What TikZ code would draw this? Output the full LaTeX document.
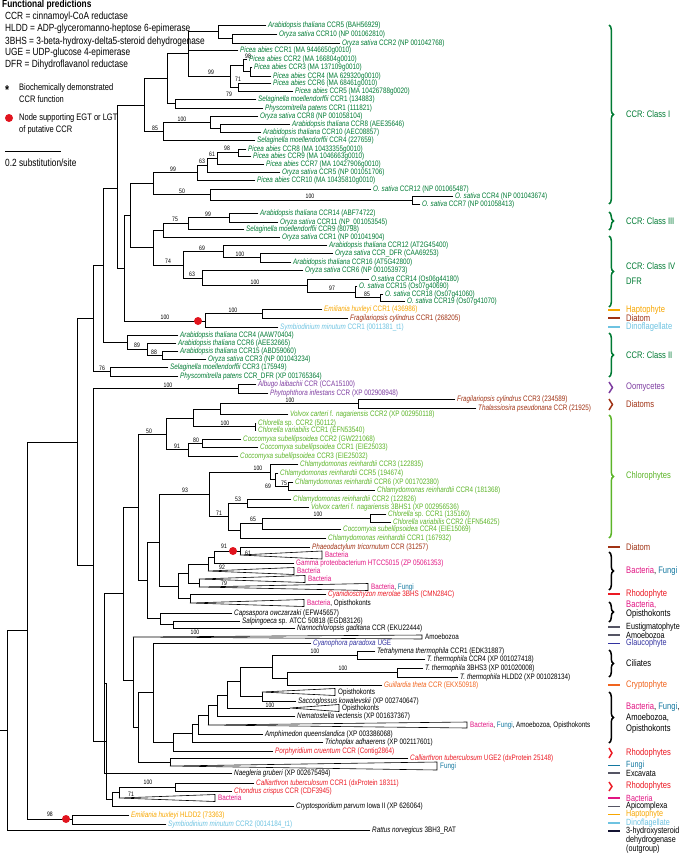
\documentclass[tikz,border=0pt]{standalone}
\usepackage{fontspec}
\setmainfont{Liberation Sans}[FakeStretch=0.8]
\usetikzlibrary{decorations.pathreplacing}
\definecolor{gC}{RGB}{0,122,51}
\definecolor{lgC}{RGB}{92,180,40}
\definecolor{orC}{RGB}{247,166,0}
\definecolor{brC}{RGB}{160,50,20}
\definecolor{lbC}{RGB}{110,195,225}
\definecolor{puC}{RGB}{125,60,160}
\definecolor{pkC}{RGB}{225,20,130}
\definecolor{fuC}{RGB}{20,120,160}
\definecolor{rdC}{RGB}{235,25,35}
\definecolor{glC}{RGB}{50,50,160}
\definecolor{crC}{RGB}{240,100,30}
\definecolor{grC}{RGB}{85,85,100}
\definecolor{dkC}{RGB}{20,20,50}
\definecolor{dotC}{RGB}{225,20,30}
\newcounter{lc}\newcounter{sc}\newcounter{gc}\newcounter{dc}
\tikzset{
 br/.style={line width=0.85pt, line cap=rect},
 trishape/.style={line width=0.6pt, fill=white, line join=miter},
 lab/.style={anchor=west, inner sep=0pt, font=\fontsize{7.9}{8}\selectfont},
 sup/.style={inner sep=0pt, font=\fontsize{6.4}{7}\selectfont},
 leg/.style={anchor=west, inner sep=0pt, font=\fontsize{10.4}{11}\selectfont},
 legs/.style={anchor=west, inner sep=0pt, font=\fontsize{9.4}{10}\selectfont},
 rl/.style={anchor=west, inner sep=0pt, font=\fontsize{9.5}{10}\selectfont},
 rls/.style={anchor=west, inner sep=0pt, font=\fontsize{9}{10}\selectfont},
 gl/.style={line width=1.6pt},
 gb/.style={decorate, line width=1.5pt},
 rdot/.style={circle, fill=dotC, inner sep=0pt, minimum size=8pt},
}
\newcommand{\vln}[3]{\draw[br] (#1,#2) -- (#1,#3);}
\newcommand{\hln}[3]{\draw[br] (#1,#3) -- (#2,#3);}
\newcommand{\leaf}[5]{\stepcounter{lc}\draw[br] (#1,#3) -- ({#2-2},#3);
 \node[lab,text=#4] (L\arabic{lc}) at (#2,#3) {#5};}
\newcommand{\ctri}[6]{\stepcounter{lc}\draw[trishape] (#1,#3) -- (#2,{#3-#4/2}) -- (#2,{#3+#4/2}) -- cycle;
 \node[lab,text=#5] (L\arabic{lc}) at ({#2+3},#3) {#6};}
\newcommand{\supv}[3]{\stepcounter{sc}\node[sup] (S\arabic{sc}) at (#1,#2) {#3};}
\newcommand{\reddot}[2]{\stepcounter{dc}\node[rdot] (D\arabic{dc}) at (#1,#2) {};}
\newcommand{\gline}[5][rl]{\stepcounter{gc}\draw[gl,draw=#4] (608,#2) -- (620,#2);
 \node[#1,text=#5] (G\arabic{gc}) at (626,#2) {#3};}
\newcommand{\gbrace}[6][4.5pt]{\stepcounter{gc}\draw[gb,decoration={brace,amplitude=#1},draw=#4] (609,#2) -- (609,#3);
 \node[rl,text=#5] (G\arabic{gc}) at (626,{(#2+#3)/2}) {#6};}
\newcommand{\sps}[1]{\textit{#1}}
\begin{document}
\begin{tikzpicture}[x=1pt,y=-1pt]
\useasboundingbox (0,0) rectangle (685,854);
% ---------------- legend
\node[leg,font=\bfseries\fontsize{10.4}{11}\selectfont] (lg0) at (2,5) {Functional predictions};
\node[leg] (lg1) at (5,17) {CCR = cinnamoyl-CoA reductase};
\node[leg] (lg2) at (5,29) {HLDD = ADP-glyceromanno-heptose 6-epimerase};
\node[leg] (lg3) at (5,42) {3BHS = 3-beta-hydroxy-delta5-steroid dehydrogenase};
\node[leg] (lg4) at (5,53) {UGE = UDP-glucose 4-epimerase};
\node[leg] (lg5) at (5,65) {DFR = Dihydroflavanol reductase};
\node[leg,font=\bfseries\fontsize{13}{13}\selectfont] (lg6) at (5,90) {*};
\node[legs] (lg7) at (19,88) {Biochemically demonstrated};
\node[legs] (lg8) at (19,99) {CCR function};
\node[rdot] (lg9) at (9,118) {};
\node[legs] (lg10) at (19,118) {Node supporting EGT or LGT};
\node[legs] (lg11) at (19,130) {of putative CCR};
\draw[line width=0.9pt] (5,151) coordinate (sb1) -- (61,151) coordinate (sb2);
\node[leg] (lg12) at (5,163) {0.2 substitution/site};
% ---------------- skeleton
\hln{0}{7}{730}
\vln{7}{630}{830}
\hln{7}{27}{630}
\vln{27}{442}{819}
\hln{27}{72}{819}
\vln{72}{815}{824}
\hln{27}{77}{442}
\vln{77}{318}{565}
\hln{77}{93}{318}
\vln{93}{265}{371.5}
\hln{93}{103}{265}
\vln{103}{188}{342}
\hln{103}{117}{188}
\vln{117}{105}{268}
\hln{117}{144}{105}
\vln{144}{78.5}{131}
\hln{144}{167}{78.5}
\vln{167}{53.9}{103.5}
\hln{167}{188}{53.9}
\vln{188}{31.75}{76}
\hln{188}{218}{31.75}
\vln{218}{25}{38.5}
\hln{218}{232}{38.5}
\vln{232}{34}{43}
\hln{188}{230}{76}
\vln{230}{65.25}{87}
\hln{230}{243}{65.25}
\vln{243}{59}{71.5}
\hln{243}{250}{71.5}
\vln{250}{67}{76}
\hln{230}{238}{87}
\vln{238}{83}{91}
\hln{167}{175}{103.5}
\vln{175}{99}{108}
\hln{144}{163}{131}
\vln{163}{122}{140}
\hln{163}{210}{122}
\vln{210}{116}{128}
\hln{210}{220}{128}
\vln{220}{124}{132}
\hln{117}{124}{268}
\vln{124}{215.5}{321}
\hln{124}{130}{215.5}
\vln{130}{183.5}{247.5}
\hln{130}{153}{183.5}
\vln{153}{172.5}{194.5}
\hln{153}{197}{172.5}
\vln{197}{165}{180}
\hln{197}{207}{165}
\vln{207}{158}{172}
\hln{207}{217}{158}
\vln{217}{152.5}{164}
\hln{217}{238}{152.5}
\vln{238}{149}{156}
\hln{153}{210}{194.5}
\vln{210}{189}{200}
\hln{210}{412}{200}
\vln{412}{196}{204}
\hln{130}{153}{247.5}
\vln{153}{230.25}{265.5}
\hln{153}{163}{230.25}
\vln{163}{223.25}{237}
\hln{163}{188}{223.25}
\vln{188}{217.5}{229}
\hln{188}{229}{217.5}
\vln{229}{213}{222}
\hln{153}{183}{265.5}
\vln{183}{251.25}{278}
\hln{183}{223}{251.25}
\vln{223}{245}{257.5}
\hln{223}{260}{257.5}
\vln{260}{253}{262}
\hln{183}{202}{278}
\vln{202}{270}{285.5}
\hln{202}{307}{285.5}
\vln{307}{279}{292}
\hln{307}{355}{292}
\vln{355}{286}{297.5}
\hln{355}{380}{297.5}
\vln{380}{294}{301}
\hln{124}{205}{321}
\vln{205}{313.5}{327}
\hln{205}{262}{313.5}
\vln{262}{309}{318}
\hln{103}{127}{342}
\vln{127}{335}{349}
\hln{127}{147}{349}
\vln{147}{343}{355}
\hln{147}{162}{355}
\vln{162}{351}{359}
\hln{93}{110}{371.5}
\vln{110}{367}{376}
\hln{77}{93}{565}
\vln{93}{388.5}{741}
\hln{93}{238}{388.5}
\vln{238}{384}{393}
% lower basal nodes
\hln{93}{106}{741}
\vln{106}{683}{799}
\hln{104}{106}{683}
\vln{104}{593.5}{773}
\hln{104}{123}{593.5}
\vln{123}{507}{680}
\hln{123}{138}{507}
\vln{138}{434}{580}
\hln{138}{166}{434}
\vln{166}{418}{449.5}
\hln{166}{193}{418}
\vln{193}{409}{426.5}
\hln{193}{220}{409}
\vln{220}{403.5}{414}
\hln{220}{358}{403.5}
\vln{358}{399}{408}
\hln{193}{255}{426.5}
\vln{255}{423}{430}
\hln{166}{188}{449.5}
\vln{188}{443}{456}
\hln{188}{202}{443}
\vln{202}{439}{447}
\hln{138}{147}{580}
\vln{147}{542}{618.75}
\hln{147}{159}{542}
\vln{159}{494.5}{586}
\hln{159}{209}{494.5}
\vln{209}{472}{516.5}
\hln{209}{270}{472}
\vln{270}{464}{479.5}
\hln{270}{275}{479.5}
\vln{275}{473}{486}
\hln{275}{288}{486}
\vln{288}{482}{490}
\hln{209}{228}{516.5}
\vln{228}{503}{530.75}
\hln{228}{247}{503}
\vln{247}{499}{507}
\hln{228}{240}{530.75}
\vln{240}{523.5}{538}
\hln{240}{262}{523.5}
\vln{262}{518}{529}
\hln{262}{370}{518}
\vln{370}{514}{522}
\hln{159}{178}{586}
\vln{178}{573.5}{598.5}
\hln{178}{188}{573.5}
\vln{188}{564}{583}
\hln{188}{208}{564}
\vln{208}{557}{571}
\hln{208}{214}{557}
\vln{214}{551}{563}
\hln{214}{240}{551}
\vln{240}{547}{555}
\hln{188}{199}{583}
\vln{199}{579}{587}
\hln{178}{190}{598.5}
\vln{190}{594}{603}
\hln{147}{160}{618.75}
\vln{160}{613}{624.5}
\hln{160}{173}{624.5}
\vln{173}{621}{628}
\hln{123}{133}{680}
\vln{133}{637}{727}
\hln{133}{138}{727}
\vln{138}{692.5}{762}
\hln{138}{153}{692.5}
\vln{153}{643}{742}
% ladder
\hln{153}{173}{742}
\vln{173}{733}{751}
\hln{173}{192}{733}
\vln{192}{724.5}{742}
\hln{192}{198}{724.5}
\vln{198}{715}{734}
\hln{198}{208}{715}
\vln{208}{705.5}{725}
\hln{208}{217}{705.5}
\vln{217}{695}{716}
\hln{217}{227}{695}
\vln{227}{681.75}{708}
\hln{227}{240}{681.75}
\vln{240}{667}{696.5}
\hln{240}{272}{667}
\vln{272}{655}{678.75}
\hln{272}{357}{655}
\vln{357}{651}{659}
\hln{272}{287}{678.75}
\vln{287}{672.5}{685}
\hln{287}{397}{672.5}
\vln{397}{668}{677}
\hln{240}{262}{696.5}
\vln{262}{692}{701}
\hln{227}{290}{708}
\hln{138}{170}{762}
\vln{170}{758}{766}
\hln{106}{112}{799}
\vln{112}{792.5}{806}
\hln{112}{119}{792.5}
\vln{119}{787}{798}
\hln{119}{175}{787}
\vln{175}{783}{791}
% ---------------- leaves
\leaf{218}{268}{25}{gC}{\sps{Arabidopsis thaliana} CCR5 (BAH56929)}
\leaf{232}{279}{34}{gC}{\sps{Oryza sativa} CCR10 (NP 001062810)}
\leaf{232}{342}{43}{gC}{\sps{Oryza sativa} CCR2 (NP 001042768)}
\leaf{188}{240}{50}{gC}{\sps{Picea abies} CCR1 (MA 9446650g0010)}
\leaf{243}{249}{59}{gC}{\sps{Picea abies} CCR2 (MA 166804g0010)}
\leaf{250}{254}{67}{gC}{\sps{Picea abies} CCR3 (MA 137109g0010)}
\leaf{250}{273}{76}{gC}{\sps{Picea abies} CCR4 (MA 629320g0010)}
\leaf{238}{273}{83}{gC}{\sps{Picea abies} CCR6 (MA 68461g0010)}
\leaf{238}{295}{91}{gC}{\sps{Picea abies} CCR5 (MA 10426788g0020)}
\leaf{175}{258}{99}{gC}{\sps{Selaginella moellendorffii} CCR1 (134883)}
\leaf{175}{265}{108}{gC}{\sps{Physcomitrella patens} CCR1 (111821)}
\leaf{210}{260}{116}{gC}{\sps{Oryza sativa} CCR8 (NP 001058104)}
\leaf{220}{292}{124}{gC}{\sps{Arabidopsis thaliana} CCR8 (AEE35646)}
\leaf{220}{263}{132}{gC}{\sps{Arabidopsis thaliana} CCR10 (AEC08857)}
\leaf{163}{257}{140}{gC}{\sps{Selaginella moellendorffii} CCR4 (227659)}
\leaf{238}{248}{149}{gC}{\sps{Picea abies} CCR8 (MA 10433355g0010)}
\leaf{238}{253}{156}{gC}{\sps{Picea abies} CCR9 (MA 1046663g0010)}
\leaf{217}{266}{164}{gC}{\sps{Picea abies} CCR7 (MA 10427906g0010)}
\leaf{207}{282}{172}{gC}{\sps{Oryza sativa} CCR5 (NP 001051706)}
\leaf{197}{257}{180}{gC}{\sps{Picea abies} CCR10 (MA 10435810g0010)}
\leaf{210}{373}{189}{gC}{\sps{O. sativa} CCR12 (NP 001065487)}
\leaf{412}{455}{196}{gC}{\sps{O. sativa} CCR4 (NP 001043674)}
\leaf{412}{422}{204}{gC}{\sps{O. sativa} CCR7 (NP 001058413)}
\leaf{229}{260}{213}{gC}{\sps{Arabidopsis thaliana} CCR14 (ABF74722)}
\leaf{229}{280}{222}{gC}{\sps{Oryza sativa} CCR11 (NP\_001053545)}
\leaf{188}{246}{229}{gC}{\sps{Selaginella moellendorffii} CCR9 (80798)}
\leaf{163}{282}{237}{gC}{\sps{Oryza sativa} CCR1 (NP 001041904)}
\leaf{223}{329}{245}{gC}{\sps{Arabidopsis thaliana} CCR12 (AT2G45400)}
\leaf{260}{335}{253}{gC}{\sps{Oryza sativa} CCR\_DFR (CAA69253)}
\leaf{260}{293}{262}{gC}{\sps{Arabidopsis thaliana} CCR16 (AT5G42800)}
\leaf{202}{305}{270}{gC}{\sps{Oryza sativa} CCR6 (NP 001053973)}
\leaf{307}{371}{279}{gC}{\sps{O.sativa} CCR14 (Os06g44180)}
\leaf{355}{359}{286}{gC}{\sps{O. sativa} CCR15 (Os07g40690)}
\leaf{380}{385}{294}{gC}{\sps{O. sativa} CCR18 (Os07g41060)}
\leaf{380}{407}{301}{gC}{\sps{O. sativa} CCR19 (Os07g41070)}
\leaf{262}{324}{309}{orC}{\sps{Emiliania huxleyi} CCR1 (436986)}
\leaf{262}{350}{318}{brC}{\sps{Fragilariopsis cylindrus} CCR1 (268205)}
\leaf{205}{280}{327}{lbC}{\sps{Symbiodinium minutum} CCR1 (0011381\_t1)}
\leaf{127}{180}{335}{gC}{\sps{Arabidopsis thaliana} CCR4 (AAW70404)}
\leaf{147}{178}{343}{gC}{\sps{Arabidopsis thaliana} CCR6 (AEE32665)}
\leaf{162}{180}{351}{gC}{\sps{Arabidopsis thaliana} CCR15 (ABD59060)}
\leaf{162}{208}{359}{gC}{\sps{Oryza sativa} CCR3 (NP 001043234)}
\leaf{110}{170}{367}{gC}{\sps{Selaginella moellendorffii} CCR3 (175949)}
\leaf{110}{180}{376}{gC}{\sps{Physcomitrella patens} CCR\_DFR (XP 001765364)}
\leaf{238}{258}{384}{puC}{\sps{Albugo laibachii} CCR (CCA15100)}
\leaf{238}{270}{393}{puC}{\sps{Phytophthora infestans} CCR (XP 002908948)}
\leaf{358}{457}{399}{brC}{\sps{Fragilariopsis cylindrus} CCR3 (234589)}
\leaf{358}{478}{408}{brC}{\sps{Thalassiosira pseudonana} CCR (21925)}
\leaf{220}{290}{414}{lgC}{\sps{Volvox carteri} f. \sps{nagariensis} CCR2 (XP 002950118)}
\leaf{255}{258}{423}{lgC}{\sps{Chlorella} sp. CCR2 (50112)}
\leaf{255}{258}{430}{lgC}{\sps{Chlorella variabilis} CCR1 (EFN53540)}
\leaf{202}{243}{439}{lgC}{\sps{Coccomyxa subellipsoidea} CCR2 (GW221068)}
\leaf{202}{260}{447}{lgC}{\sps{Coccomyxa subellipsoidea} CCR1 (EIE25033)}
\leaf{188}{240}{456}{lgC}{\sps{Coccomyxa subellipsoidea} CCR3 (EIE25032)}
\leaf{270}{300}{464}{lgC}{\sps{Chlamydomonas reinhardtii} CCR3 (122835)}
\leaf{275}{280}{473}{lgC}{\sps{Chlamydomonas reinhardtii} CCR5 (194674)}
\leaf{288}{295}{482}{lgC}{\sps{Chlamydomonas reinhardtii} CCR6 (XP 001702380)}
\leaf{288}{377}{490}{lgC}{\sps{Chlamydomonas reinhardtii} CCR4 (181368)}
\leaf{247}{293}{499}{lgC}{\sps{Chlamydomonas reinhardtii} CCR2 (122826)}
\leaf{247}{311}{507}{lgC}{\sps{Volvox carteri} f. \sps{nagariensis} 3BHS1 (XP 002956536)}
\leaf{370}{388}{514}{lgC}{\sps{Chlorella} sp. CCR1 (135160)}
\leaf{370}{393}{522}{lgC}{\sps{Chlorella variabilis} CCR2 (EFN54625)}
\leaf{262}{343}{529}{lgC}{\sps{Coccomyxa subellipsoidea} CCR4 (EIE15069)}
\leaf{240}{328}{538}{lgC}{\sps{Chlamydomonas reinhardtii} CCR1 (167932)}
\leaf{240}{312}{547}{brC}{\sps{Phaeodactylum tricornutum} CCR (31257)}
\ctri{240}{322}{555}{8}{pkC}{Bacteria}
\leaf{214}{296}{563}{pkC}{Gamma proteobacterium HTCC5015 (ZP 05061353)}
\ctri{208}{294}{571}{7}{pkC}{Bacteria}
\ctri{199}{305}{579}{7}{pkC}{Bacteria}
\ctri{199}{368}{587}{7}{black}{\textcolor{pkC}{Bacteria}, \textcolor{fuC}{Fungi}}
\leaf{190}{328}{594}{rdC}{\sps{Cyanidioschyzon merolae} 3BHS (CMN284C)}
\ctri{190}{304}{603}{7}{black}{\textcolor{pkC}{Bacteria}, Opisthokonts}
\leaf{160}{234}{613}{black}{\sps{Capsaspora owczarzaki} (EFW45657)}
\leaf{173}{242}{621}{black}{\sps{Salpingoeca} sp. ATCC 50818 (EGD83126)}
\leaf{173}{297}{628}{black}{\sps{Nannochloropsis gaditana} CCR (EKU22444)}
\ctri{133}{422}{637}{4}{black}{Amoebozoa}
\leaf{153}{313}{643}{glC}{\sps{Cyanophora paradoxa} UGE}
\leaf{357}{377}{651}{black}{\sps{Tetrahymena thermophila} CCR1 (EDK31887)}
\leaf{357}{427}{659}{black}{\sps{T. thermophila} CCR4 (XP 001027418)}
\leaf{397}{425}{668}{black}{\sps{T. thermophila} 3BHS3 (XP 001020008)}
\leaf{397}{460}{677}{black}{\sps{T. thermophila} HLDD2 (XP 001028134)}
\leaf{287}{384}{685}{crC}{\sps{Guillardia theta} CCR (EKX50918)}
\ctri{262}{335}{692}{7}{black}{Opisthokonts}
\leaf{262}{298}{701}{black}{\sps{Saccoglossus kowalevskii} (XP 002740647)}
\ctri{290}{339}{708}{7}{black}{Opisthokonts}
\leaf{217}{297}{716}{black}{\sps{Nematostella vectensis} (XP 001637367)}
\ctri{208}{467}{725}{6}{black}{\textcolor{pkC}{Bacteria}, \textcolor{fuC}{Fungi}, Amoebozoa, Opisthokonts}
\leaf{198}{265}{734}{black}{\sps{Amphimedon queenslandica} (XP 003386068)}
\leaf{192}{325}{742}{black}{\sps{Trichoplax adhaerens} (XP 002117601)}
\leaf{173}{275}{751}{rdC}{\sps{Porphyridium cruentum} CCR (Contig2864)}
\leaf{170}{410}{758}{rdC}{\sps{Calliarthron tuberculosum} UGE2 (dxProtein 25148)}
\ctri{170}{437}{766}{8}{fuC}{Fungi}
\leaf{104}{234}{773}{black}{\sps{Naegleria gruberi} (XP 002675494)}
\leaf{175}{256}{783}{rdC}{\sps{Calliarthron tuberculosum} CCR1 (dxProtein 18311)}
\leaf{175}{234}{791}{rdC}{\sps{Chondrus crispus} CCR (CDF3945)}
\ctri{119}{215}{798}{7}{pkC}{Bacteria}
\leaf{112}{296}{806}{black}{\sps{Cryptosporidium parvum} Iowa II (XP 626064)}
\leaf{72}{131}{815}{orC}{\sps{Emiliania huxleyi} HLDD2 (73363)}
\leaf{72}{168}{824}{lbC}{\sps{Symbiodinium minutum} CCR2 (0014184\_t1)}
\leaf{7}{372}{830}{black}{\sps{Rattus norvegicus} 3BH3\_RAT}
% ---------------- support values
\supv{155}{128}{85}
\supv{182}{119}{100}
\supv{211}{72}{99}
\supv{248}{56}{98}
\supv{238}{79}{71}
\supv{229}{94}{79}
\supv{173}{169}{99}
\supv{202}{161}{63}
\supv{212}{154}{61}
\supv{227}{148}{98}
\supv{182}{191}{50}
\supv{310}{196}{100}
\supv{175}{219}{75}
\supv{208}{214}{99}
\supv{168}{261}{74}
\supv{202}{248}{69}
\supv{240}{254}{100}
\supv{192}{274}{63}
\supv{255}{282}{100}
\supv{332}{288}{97}
\supv{367}{294}{85}
\supv{165}{317}{100}
\supv{233}{310}{100}
\supv{137}{345}{89}
\supv{154}{352}{88}
\supv{102}{368}{76}
\supv{168}{385}{100}
\supv{290}{400}{100}
\supv{225}{423}{100}
\supv{149}{431}{50}
\supv{177}{446}{91}
\supv{196}{440}{80}
\supv{185}{490}{93}
\supv{258}{468}{100}
\supv{268}{486}{69}
\supv{284}{483}{75}
\supv{238}{499}{53}
\supv{219}{513}{71}
\supv{253}{519}{65}
\supv{318}{514}{100}
\supv{224}{546}{91}
\supv{248}{553}{61}
\supv{222}{567}{92}
\supv{224}{583}{79}
\supv{195}{632}{100}
\supv{315}{651}{100}
\supv{343}{668}{100}
\supv{270}{705}{100}
\supv{148}{782}{100}
\supv{131}{794}{71}
\supv{50}{814}{98}
% ---------------- red dots
\reddot{198}{321}
\reddot{233}{551}
\reddot{66}{819}
% ---------------- right annotations
\gbrace{25}{204}{gC}{gC}{CCR: Class I}
\gbrace{212}{230}{gC}{gC}{CCR: Class III}
\gbrace{236}{307}{gC}{gC}{}
\node[rl,text=gC] (cIV) at (626,266) {CCR: Class IV};
\node[rl,text=gC] (cDFR) at (626,281) {DFR};
\gline{310}{Haptophyte}{orC}{orC}
\gline{318}{Diatom}{brC}{brC}
\gline{327}{Dinoflagellate}{lbC}{lbC}
\gbrace{333}{377}{gC}{gC}{CCR: Class II}
\gbrace[3.5pt]{382}{393}{puC}{puC}{Oomycetes}
\gbrace[3.5pt]{399}{410}{brC}{brC}{Diatoms}
\gbrace{415}{538}{lgC}{lgC}{Chlorophytes}
\gline{547}{Diatom}{brC}{brC}
\gbrace{552}{590}{black}{black}{\textcolor{pkC}{Bacteria}, \textcolor{fuC}{Fungi}}
\gline{594}{Rhodophyte}{rdC}{rdC}
\gbrace{602}{622}{black}{black}{}
\node[rl,text=pkC] (bo1) at (626,605) {Bacteria,};
\node[rl,text=black] (bo2) at (626,614.5) {Opisthokonts};
\gline[rls]{627}{Eustigmatophyte}{grC}{black}
\gline[rls]{635}{Amoebozoa}{grC}{black}
\gline[rls]{643.5}{Glaucophyte}{glC}{glC}
\gbrace{650}{677}{black}{black}{Ciliates}
\gline{685}{Cryptophyte}{crC}{crC}
\gbrace{692}{743}{black}{black}{}
\node[rl,text=black] (bf1) at (626,707) {\textcolor{pkC}{Bacteria}, \textcolor{fuC}{Fungi},};
\node[rl,text=black] (bf2) at (626,718) {Amoebozoa,};
\node[rl,text=black] (bf3) at (626,729) {Opisthokonts};
\gbrace[3pt]{748}{758}{rdC}{rdC}{Rhodophytes}
\gline[rls]{765.5}{Fungi}{fuC}{fuC}
\gline[rls]{773}{Excavata}{grC}{black}
\gbrace[3pt]{782}{791}{rdC}{rdC}{Rhodophytes}
\gline[rls]{798}{Bacteria}{pkC}{pkC}
\gline[rls]{806.5}{Apicomplexa}{grC}{black}
\gline[rls]{814.5}{Haptophyte}{orC}{orC}
\gline[rls]{823}{Dinoflagellate}{lbC}{lbC}
\gline[rls]{831}{3-hydroxysteroid}{dkC}{black}
\node[rls,text=black] (og2) at (626,840) {dehydrogenase};
\node[rls,text=black] (og3) at (626,849) {(outgroup)};
\end{tikzpicture}
\end{document}
